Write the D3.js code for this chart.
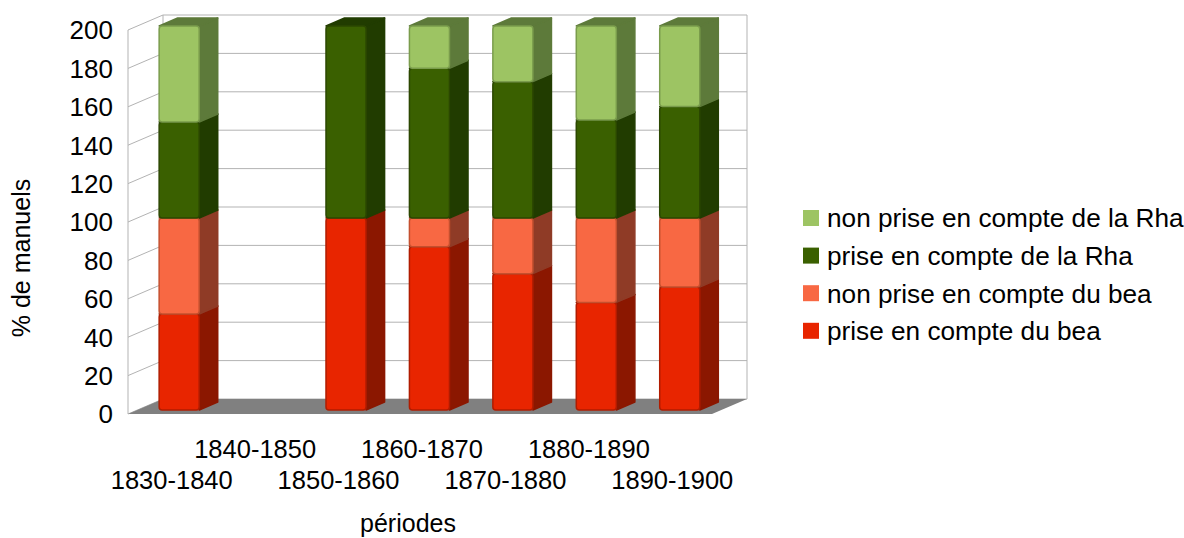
<!DOCTYPE html>
<html>
<head>
<meta charset="utf-8">
<script src="https://cdn.jsdelivr.net/npm/d3@7"></script>
<style>
html,body{margin:0;padding:0;background:#fff;}
svg{display:block;font-family:"Liberation Sans",Arial,sans-serif;}
</style>
</head>
<body>
<svg id="chart" width="1184" height="538"></svg>
<script>
// ---- data ----
const categories = ["1830-1840","1840-1850","1850-1860","1860-1870","1870-1880","1880-1890","1890-1900"];
const seriesNames = ["prise en compte du bea","non prise en compte du bea","prise en compte de la Rha","non prise en compte de la Rha"];
const priseBea    = [50, 0, 100, 85, 71, 56, 64];
const nonPriseBea = [50, 0,   0, 15, 29, 44, 36];
const priseRha    = [50, 0, 100, 78, 71, 51, 58];
const nonPriseRha = [50, 0,   0, 22, 29, 49, 42];
const yTicks = [0,20,40,60,80,100,120,140,160,180,200];

const colors = {
  front: ["#e82500", "#f86843", "#3a6000", "#9dc463"],
  side:  ["#8b1700", "#8f3b26", "#213c00", "#5d7a3a"],
  top:   ["#8b1700", "#8f3b26", "#213c00", "#5d7a3a"],
  edge:  ["#b01c00", "#c4502f", "#2b4700", "#7a9c4c"]
};

const seriesValues = [priseBea, nonPriseBea, priseRha, nonPriseRha];

const svg = d3.select("#chart");

// front plane geometry
const x = d3.scaleBand().domain(categories).range([128, 712]).padding(0);
const y = d3.scaleLinear().domain([0, 200]).range([414, 30]);
const DX = 35, DY = -15; // depth vector for the full depth
const P = (xf, v, z) => [xf + DX * z, y(v) + DY * z];
const Z0 = 0.27, Z1 = 0.8;
const barFrac = 0.48;

// walls
const g = svg.append("g");
const grid = "#b3b3b3";
yTicks.forEach(t => {
  const a = P(x.range()[0], t, 1), b = P(x.range()[1], t, 1);
  g.append("line").attr("x1", a[0]).attr("y1", a[1]).attr("x2", b[0]).attr("y2", b[1])
    .attr("stroke", grid).attr("stroke-width", 1);
  const c = P(x.range()[0], t, 0);
  g.append("line").attr("x1", c[0]).attr("y1", c[1]).attr("x2", a[0]).attr("y2", a[1])
    .attr("stroke", grid).attr("stroke-width", 1);
});
[[x.range()[0], 0], [x.range()[0], 1], [x.range()[1], 1]].forEach(([xf, z]) => {
  const a = P(xf, 0, z), b = P(xf, 200, z);
  g.append("line").attr("x1", a[0]).attr("y1", a[1]).attr("x2", b[0]).attr("y2", b[1])
    .attr("stroke", grid).attr("stroke-width", 1);
});
// floor
const fl = [P(x.range()[0],0,0), P(x.range()[0],0,1), P(x.range()[1],0,1), P(x.range()[1],0,0)];
g.append("polygon").attr("points", fl.map(p => p.join(",")).join(" ")).attr("fill", "#808080");

// y tick labels
svg.append("g").selectAll("text").data(yTicks).join("text")
  .attr("x", 113).attr("y", d => y(d)).attr("dy", "0.36em")
  .attr("text-anchor", "end").attr("font-size", 26).attr("fill", "#000")
  .text(d => d);

// bars
const stackData = categories.map((c, i) => {
  let base = 0;
  return seriesValues.map((s, k) => {
    const seg = {cat: c, k, v0: base, v1: base + s[i]};
    base += s[i];
    return seg;
  });
});
const bw = x.bandwidth() * barFrac;
const bars = svg.append("g");
stackData.forEach(segs => {
  segs.forEach(seg => {
    if (seg.v1 - seg.v0 <= 0) return;
    const xl = x(seg.cat) + x.bandwidth() / 2 - bw / 2, xr = xl + bw;
    const gg = bars.append("g");
    const side = [P(xr, seg.v0, Z0), P(xr, seg.v0, Z1), P(xr, seg.v1, Z1), P(xr, seg.v1, Z0)];
    gg.append("path").attr("d", d3.line()(side) + "Z")
      .attr("fill", colors.side[seg.k]).attr("stroke", colors.side[seg.k]).attr("stroke-width", 1.5).attr("stroke-linejoin", "round");
    const top = [P(xl, seg.v1, Z0), P(xl, seg.v1, Z1), P(xr, seg.v1, Z1), P(xr, seg.v1, Z0)];
    gg.append("path").attr("d", d3.line()(top) + "Z")
      .attr("fill", colors.top[seg.k]).attr("stroke", colors.top[seg.k]).attr("stroke-width", 1.5).attr("stroke-linejoin", "round");
    const f0 = P(xl, seg.v1, Z0), f1 = P(xr, seg.v0, Z0);
    gg.append("rect").attr("x", f0[0]).attr("y", f0[1])
      .attr("width", f1[0] - f0[0]).attr("height", f1[1] - f0[1])
      .attr("rx", 3).attr("ry", 3)
      .attr("fill", colors.front[seg.k]).attr("stroke", colors.edge[seg.k]).attr("stroke-width", 1.5);
  });
});

// category labels (staggered)
svg.append("g").selectAll("text").data(categories).join("text")
  .attr("x", d => x(d) + x.bandwidth() / 2 + 2)
  .attr("y", (d, i) => i % 2 === 0 ? 489 : 458)
  .attr("text-anchor", "middle").attr("font-size", 25.5).attr("fill", "#000")
  .text(d => d);

// axis titles
svg.append("text").attr("x", 408).attr("y", 532).attr("text-anchor", "middle")
  .attr("font-size", 25).text("périodes");
svg.append("text").attr("transform", "translate(30,258) rotate(-90)").attr("text-anchor", "middle")
  .attr("font-size", 25).text("% de manuels");

// legend
const legendOrder = [3, 2, 1, 0];
const lg = svg.append("g");
legendOrder.forEach((k, i) => {
  const cy = 218 + i * 37.6;
  lg.append("rect").attr("x", 803).attr("y", cy - 8).attr("width", 16).attr("height", 16)
    .attr("fill", colors.front[k]);
  lg.append("text").attr("x", 827).attr("y", cy).attr("dy", "0.36em")
    .attr("font-size", 26.2).text(seriesNames[k]);
});
</script>
</body>
</html>
